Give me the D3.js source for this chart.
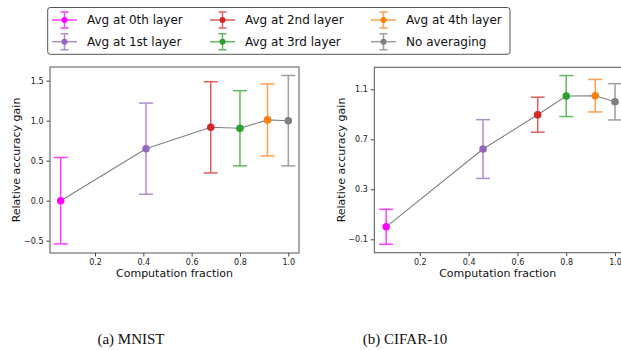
<!DOCTYPE html>
<html>
<head>
<meta charset="utf-8">
<script src="https://d3js.org/d3.v7.min.js"></script>
<style>
  body { margin: 0; padding: 0; background: #fff; overflow: hidden; }
  text { font-family: "DejaVu Sans", sans-serif; }
</style>
</head>
<body>
<script>
  // series / data
  var labels = ["Avg at 0th layer", "Avg at 1st layer", "Avg at 2nd layer",
                "Avg at 3rd layer", "Avg at 4th layer", "No averaging"];
  var colors = ["#ff00ff", "#9467bd", "#d62728", "#2ca02c", "#ff7f0e", "#7f7f7f"];

  var mnistX = [0.058, 0.411, 0.679, 0.80, 0.914, 1.0];
  var mnistY = [0.0, 0.65, 0.917, 0.905, 1.01, 1.0];
  var mnistErr = [0.54, 0.57, 0.57, 0.47, 0.45, 0.565];

  var cifarX = [0.062, 0.459, 0.683, 0.80, 0.919, 1.0];
  var cifarY = [0.0, 0.622, 0.897, 1.046, 1.049, 1.0];
  var cifarErr = [0.14, 0.235, 0.14, 0.164, 0.13, 0.145];

  var xTicks = [0.2, 0.4, 0.6, 0.8, 1.0];
  var mnistYTicks = [-0.5, 0.0, 0.5, 1.0, 1.5];
  var cifarYTicks = [-0.1, 0.3, 0.7, 1.1];

  var width = 621, height = 350;
  var svg = d3.select("body").append("svg")
      .attr("width", width).attr("height", height);

  function panel(o) {
    var x = d3.scaleLinear().domain(o.xd).range([o.left, o.right]);
    var y = d3.scaleLinear().domain(o.yd).range([o.bottom, o.top]);
    var g = svg.append("g");

    // connecting line
    var pts = o.xs.map((d, i) => [x(d), y(o.ys[i])]);
    g.append("path").attr("d", d3.line()(pts))
      .attr("fill", "none").attr("stroke", "#808080").attr("stroke-width", 1.1);

    o.xs.forEach((d, i) => {
      var cx = x(d), c = colors[i];
      var y0 = y(o.ys[i] - o.errs[i]), y1 = y(o.ys[i] + o.errs[i]);
      var eb = g.append("g").attr("stroke", c).attr("stroke-width", 1.5).attr("opacity", 0.75);
      eb.append("line").attr("x1", cx).attr("x2", cx).attr("y1", y0).attr("y2", y1);
      eb.append("line").attr("x1", cx - 7).attr("x2", cx + 7).attr("y1", y0).attr("y2", y0);
      eb.append("line").attr("x1", cx - 7).attr("x2", cx + 7).attr("y1", y1).attr("y2", y1);
      g.append("circle").attr("cx", cx).attr("cy", y(o.ys[i])).attr("r", 3.8).attr("fill", c);
    });

    // axes
    var xa = g.append("g").attr("transform", "translate(0," + o.bottom + ")")
      .call(d3.axisBottom(x).tickValues(xTicks).tickFormat(d3.format(".1f")).tickSize(3.5).tickPadding(3));
    var ya = g.append("g").attr("transform", "translate(" + o.left + ",0)")
      .call(d3.axisLeft(y).tickValues(o.yt).tickFormat(o.fmt).tickSize(3.5).tickPadding(3));
    [xa, ya].forEach(a => {
      a.select(".domain").remove();
      a.selectAll("line").attr("stroke", "#444");
      a.selectAll("text").attr("font-size", 8).attr("fill", "#222")
        .style("font-family", "DejaVu Sans");
    });

    g.append("rect").attr("x", o.left).attr("y", o.top)
      .attr("width", o.right - o.left).attr("height", o.bottom - o.top)
      .attr("fill", "none").attr("stroke", "#555").attr("stroke-width", 1);

    g.append("text").attr("x", (o.left + o.clipRight) / 2).attr("y", 277)
      .attr("text-anchor", "middle").attr("font-size", 11).attr("fill", "#111")
      .text("Computation fraction");
    g.append("text")
      .attr("transform", "translate(" + o.ylx + "," + ((o.top + o.bottom) / 2) + ") rotate(-90)")
      .attr("text-anchor", "middle").attr("dy", "0.35em").attr("font-size", 11).attr("fill", "#111")
      .text("Relative accuracy gain");

    svg.append("text").attr("x", o.capX).attr("y", 344)
      .attr("text-anchor", "middle").attr("font-size", 15)
      .style("font-family", "'Liberation Serif', 'Times New Roman', serif")
      .attr("fill", "#111").text(o.caption);
  }

  panel({
    xs: mnistX, ys: mnistY, errs: mnistErr, yt: mnistYTicks, fmt: d3.format(".1f"),
    xd: [0.0137, 1.0443], yd: [-0.654, 1.671],
    left: 50, right: 299, top: 67, bottom: 253, clipRight: 299,
    ylx: 15.7, capX: 131, caption: "(a) MNIST"
  });
  panel({
    xs: cifarX, ys: cifarY, errs: cifarErr, yt: cifarYTicks, fmt: d3.format(".1f"),
    xd: [0.0133, 1.045], yd: [-0.207, 1.276],
    left: 374.3, right: 626, top: 67.3, bottom: 252.7, clipRight: 621,
    ylx: 340.7, capX: 405, caption: "(b) CIFAR-10"
  });

  // legend
  var leg = svg.append("g");
  leg.append("rect").attr("x", 47.7).attr("y", 7.5).attr("width", 462.3).attr("height", 46.8)
    .attr("rx", 2.5).attr("fill", "#fff").attr("stroke", "#555").attr("stroke-width", 1);
  var colX = [52, 210, 371], rowY = [20, 41.7];
  labels.forEach((lab, i) => {
    var col = Math.floor(i / 2), row = i % 2;
    var hx = colX[col], hy = rowY[row], c = colors[i];
    var h = leg.append("g").attr("stroke", c).attr("stroke-width", 1.5).attr("opacity", 0.75);
    h.append("line").attr("x1", hx).attr("x2", hx + 25).attr("y1", hy).attr("y2", hy);
    h.append("line").attr("x1", hx + 12.5).attr("x2", hx + 12.5).attr("y1", hy - 8).attr("y2", hy + 8);
    h.append("line").attr("x1", hx + 8.5).attr("x2", hx + 16.5).attr("y1", hy - 8).attr("y2", hy - 8);
    h.append("line").attr("x1", hx + 8.5).attr("x2", hx + 16.5).attr("y1", hy + 8).attr("y2", hy + 8);
    leg.append("circle").attr("cx", hx + 12.5).attr("cy", hy).attr("r", 3).attr("fill", c);
    leg.append("text").attr("x", hx + 35).attr("y", hy).attr("dy", "0.35em")
      .attr("font-size", 12).attr("fill", "#111").text(lab);
  });
</script>
</body>
</html>
